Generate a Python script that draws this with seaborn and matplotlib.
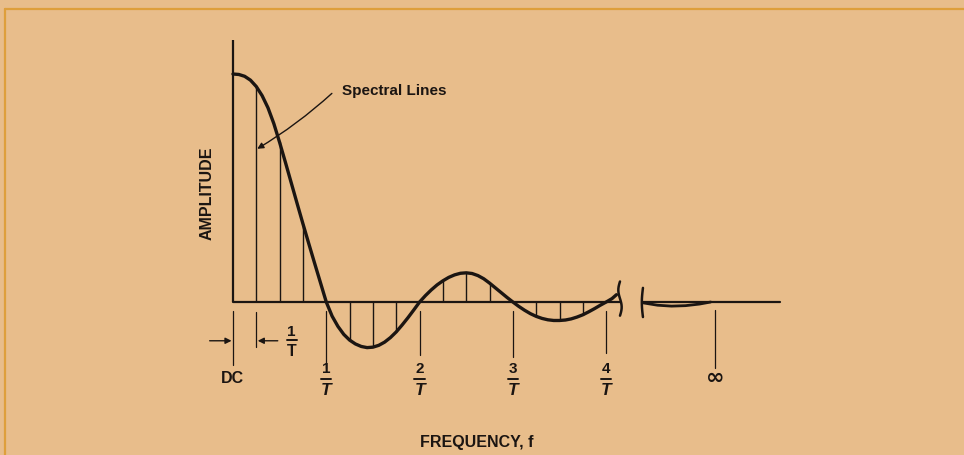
import numpy as np
import pandas as pd
import matplotlib
matplotlib.use("Agg")
import matplotlib.pyplot as plt
from matplotlib.lines import Line2D
import seaborn as sns

# ---------------- data (f in units of 1/T) ----------------
curve_f = [0.0, 0.0625, 0.125, 0.1875, 0.25, 0.3125, 0.375, 0.4375, 0.5,
           0.5625, 0.625, 0.6875, 0.75, 0.8125, 0.875, 0.9375, 1.0,
           1.0625, 1.125, 1.1875, 1.25, 1.3125, 1.375, 1.4375, 1.5,
           1.5625, 1.625, 1.6875, 1.75, 1.8125, 1.875, 1.9375, 2.0,
           2.0625, 2.125, 2.1875, 2.25, 2.3125, 2.375, 2.4375, 2.5,
           2.5625, 2.625, 2.6875, 2.75, 2.8125, 2.875, 2.9375, 3.0,
           3.0625, 3.125, 3.1875, 3.25, 3.3125, 3.375, 3.4375, 3.5,
           3.5625, 3.625, 3.6875, 3.75, 3.8125, 3.875, 3.9375, 4.0,
           4.0625, 4.11]
curve_amp = [1.0, 0.998, 0.99, 0.973, 0.945, 0.905, 0.852, 0.783, 0.70,
             0.612, 0.522, 0.432, 0.343, 0.256, 0.17, 0.085, 0.0,
             -0.062, -0.107, -0.142, -0.167, -0.184, -0.195, -0.2, -0.198,
             -0.19, -0.176, -0.156, -0.131, -0.101, -0.069, -0.035, 0.0,
             0.028, 0.053, 0.075, 0.093, 0.108, 0.119, 0.126, 0.128,
             0.125, 0.116, 0.102, 0.083, 0.062, 0.041, 0.02, 0.0,
             -0.019, -0.036, -0.051, -0.063, -0.072, -0.078, -0.081, -0.081,
             -0.079, -0.074, -0.066, -0.056, -0.043, -0.029, -0.014, 0.0,
             0.015, 0.032]

# tail after the axis break (towards infinity)
tail_f = [4.40, 4.55, 4.70, 4.85, 5.00, 5.12]
tail_amp = [-0.004, -0.014, -0.018, -0.016, -0.009, 0.0]

# spectral lines every 1/(4T)
line_f = [0.25, 0.5, 0.75, 1.25, 1.5, 1.75, 2.25, 2.5, 2.75, 3.25, 3.5, 3.75]

# frequency tick marks and labels
tick_f = [0, 1, 2, 3, 4]
tick_num = ["DC", "1", "2", "3", "4"]
inf_f = 5.166

# ---------------- style ----------------
sns.set_theme(style="white")
plt.rcParams["font.family"] = ["Liberation Sans", "DejaVu Sans"]
bg = "#E8BD8B"
ink = "#1b1512"
border = "#DE9F3C"

fig = plt.figure(figsize=(9.64, 4.55), dpi=100, facecolor=bg)
ax = fig.add_axes([0, 0, 1, 1])
ax.set_facecolor(bg)
ax.set_xlim(-2.497, 7.835)
ax.set_ylim(-0.671, 1.3246)
ax.axis("off")

# border of the page
fig.add_artist(Line2D([5 / 964, 1], [0.980, 0.980], transform=fig.transFigure, color=border, lw=1.6))
fig.add_artist(Line2D([5 / 964, 5 / 964], [0, 0.980], transform=fig.transFigure, color=border, lw=1.6))

# axes lines
ax.plot([0, 0], [0, 1.149], color=ink, lw=1.6, solid_capstyle="butt")
ax.plot([0, 4.148], [0, 0], color=ink, lw=1.6)
ax.plot([4.394, 5.863], [0, 0], color=ink, lw=1.6)

# curve
df = pd.DataFrame({"f": curve_f, "amp": curve_amp})
sns.lineplot(data=df, x="f", y="amp", ax=ax, color=ink, lw=2.4, sort=True, legend=False,
             solid_joinstyle="round", solid_capstyle="round")
tf = pd.DataFrame({"f": tail_f, "amp": tail_amp})
sns.lineplot(data=tf, x="f", y="amp", ax=ax, color=ink, lw=2.0, sort=True, legend=False,
             solid_joinstyle="round")

# spectral lines (heights taken from the curve)
amp_lookup = dict(zip(curve_f, curve_amp))
line_amp = [amp_lookup[f] for f in line_f]
ax.vlines(line_f, 0, line_amp, color=ink, lw=1.0)

# break marks
yy = np.linspace(-0.06, 0.09, 20)
ax.plot(4.148 + 0.018 * np.sin((yy + 0.06) / 0.15 * 2 * np.pi), yy, color=ink, lw=1.8)
yy2 = np.linspace(-0.066, 0.062, 20)
ax.plot(4.394 - 0.012 * np.sin((yy2 + 0.066) / 0.128 * np.pi), yy2, color=ink, lw=1.8)

# ticks under the axis
tick_bottom = [-0.276, -0.29, -0.232, -0.241, -0.224]
for f, b in zip(tick_f, tick_bottom):
    ax.plot([f, f], [-0.04, b], color=ink, lw=0.9)
ax.plot([0.25, 0.25], [-0.044, -0.197], color=ink, lw=0.9)
ax.plot([inf_f, inf_f], [-0.035, -0.29], color=ink, lw=0.9)

# tick labels
txt = dict(color=ink, fontweight="bold", ha="center", va="center")
ax.text(-0.01, -0.335, tick_num[0], fontsize=11.5, **txt)
for f, n in zip(tick_f[1:], tick_num[1:]):
    ax.text(f, -0.296, n, fontsize=11, **txt)
    ax.plot([f - 0.055, f + 0.055], [-0.337, -0.337], color=ink, lw=1.4)
    ax.text(f, -0.386, "T", fontsize=12.5, fontstyle="italic", **txt)
ax.text(inf_f, -0.335, "∞", fontsize=16, fontweight="bold", family=["DejaVu Sans"],
        color=ink, ha="center", va="center")

# spacing indicator 1/T
ax.annotate("", xy=(-0.015, -0.17), xytext=(-0.25, -0.17),
            arrowprops=dict(arrowstyle="-|>", lw=1.0, color=ink, mutation_scale=9, shrinkA=0, shrinkB=0))
ax.annotate("", xy=(0.265, -0.17), xytext=(0.48, -0.17),
            arrowprops=dict(arrowstyle="-|>", lw=1.0, color=ink, mutation_scale=9, shrinkA=0, shrinkB=0))
ax.text(0.629, -0.13, "1", fontsize=11, **txt)
ax.plot([0.574, 0.684], [-0.167, -0.167], color=ink, lw=1.4)
ax.text(0.629, -0.217, "T", fontsize=11.5, **txt)

# Spectral Lines callout
ax.annotate("", xy=(0.26, 0.672), xytext=(1.06, 0.915),
            arrowprops=dict(arrowstyle="-|>", lw=1.0, color=ink, mutation_scale=9,
                            shrinkA=0, shrinkB=0, connectionstyle="arc3,rad=-0.05"))
ax.text(1.17, 0.927, "Spectral Lines", fontsize=11, color=ink, fontweight="bold", ha="left", va="center")

# axis titles
ax.text(-0.279, 0.478, "AMPLITUDE", fontsize=11.5, rotation=90, **txt)
ax.text(2.61, -0.614, "FREQUENCY, f", fontsize=11.5, **txt)

fig.savefig("out.png", dpi=100, facecolor=bg)
